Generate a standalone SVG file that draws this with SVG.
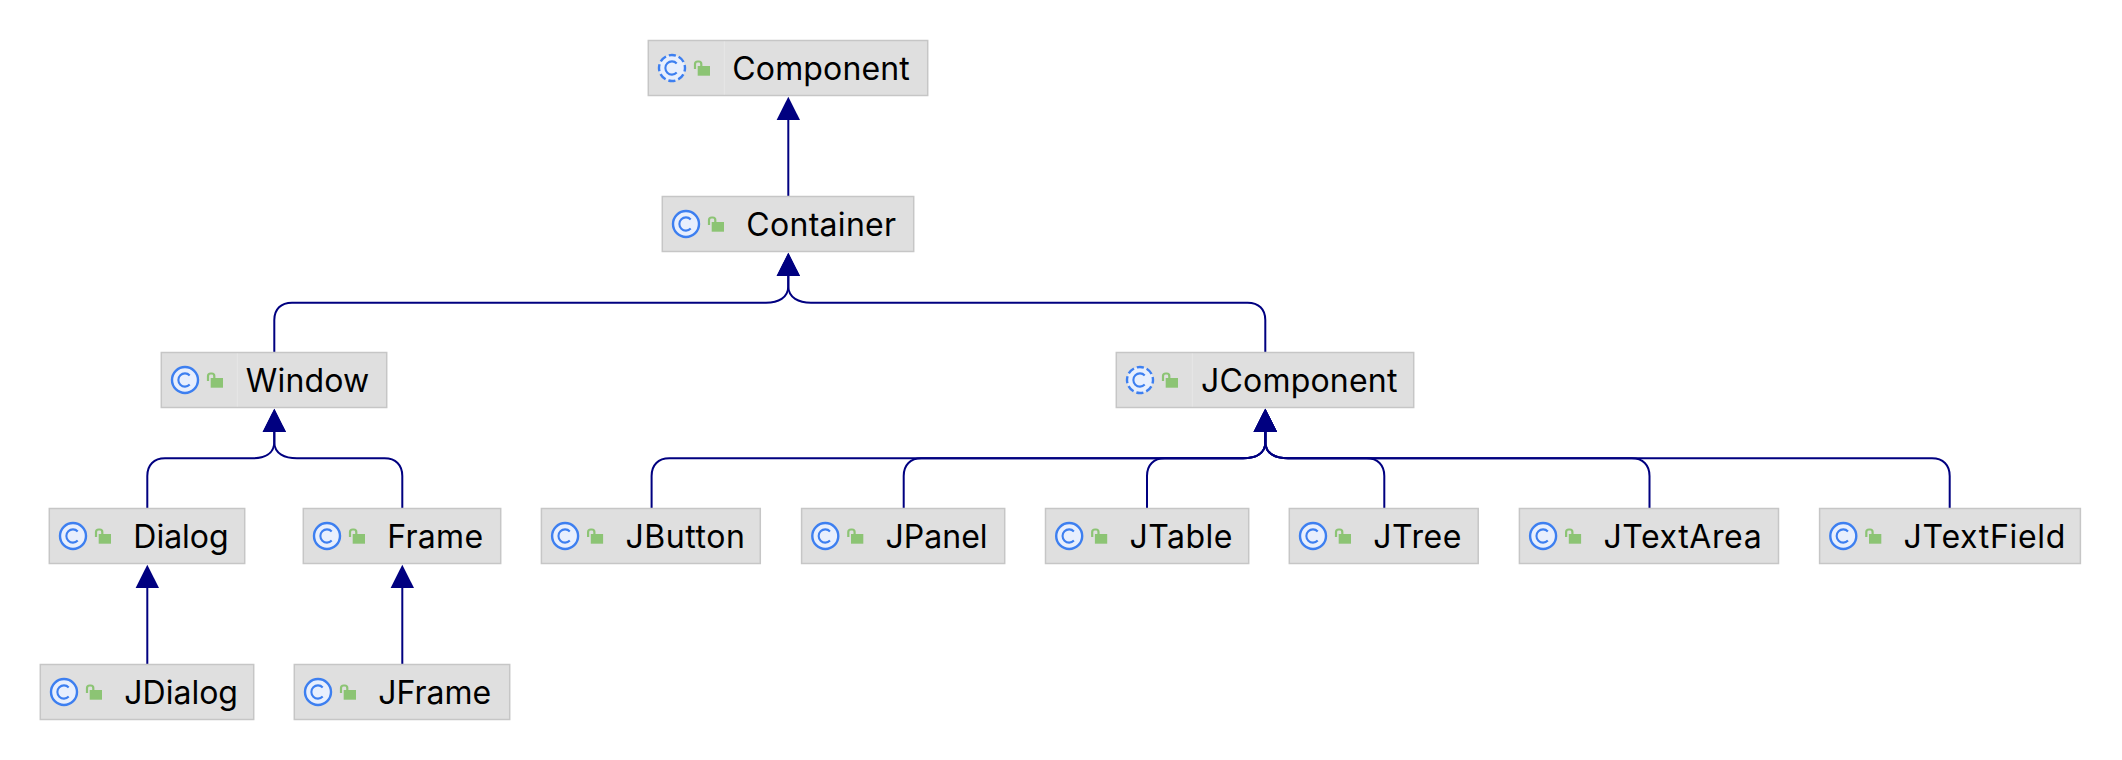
<svg xmlns="http://www.w3.org/2000/svg" width="2122" height="760" viewBox="0 0 2122 760">
<style>
.box{fill:#dfdfdf;stroke:#c6c6c6;stroke-width:1.5}
.div{stroke:#e6e6e6;stroke-width:1}
.lbl{font-family:"Inter","Liberation Sans",sans-serif;font-size:32px;fill:#000}
.conn{fill:none;stroke:#000080;stroke-width:2;marker-end:url(#tri)}
.ic{fill:none;stroke:#3d7ff0;stroke-width:2.1}
</style>
<defs>
<marker id="tri" markerUnits="userSpaceOnUse" markerWidth="24" markerHeight="24" viewBox="0 0 24 24" refX="0" refY="12" orient="auto"><path d="M0 0.3L23.2 12L0 23.7z" fill="#000080"/></marker>
<g id="lock"><rect x="49.400" y="25.500" width="12.300" height="9.700" fill="#8cc474"/><path d="M46.700 28.500V23.500Q46.700 21 49.500 21H50.500Q53 21 53 23.500V26" fill="none" stroke="#8cc474" stroke-width="2.200"/></g>
<g id="cc"><circle cx="23.700" cy="27.500" r="13" fill="#e8effd" stroke="#3d7ff0" stroke-width="2.400"/><path class="ic" d="M28.400 22.900A6.600 6.600 0 1 0 28.400 32.100"/><use href="#lock"/></g>
<g id="ca"><circle cx="23.700" cy="27.500" r="13" fill="#e8effd" stroke="#3d7ff0" stroke-width="2.400" stroke-dasharray="7.200 3" stroke-dashoffset="3.600"/><path class="ic" d="M28.400 22.900A6.600 6.600 0 1 0 28.400 32.100"/><use href="#lock"/></g>
</defs>
<g id="connectors">
<path class="conn" d="M788.300 196V120"/>
<path class="conn" d="M274.300 352V320C274.300 309 281 302.700 292 302.700H766C778 302.700 788.300 298 788.300 286V276"/>
<path class="conn" d="M1265.300 352V320C1265.300 309 1258.600 302.700 1247.600 302.700H811C799 302.700 788.300 298 788.300 286V276"/>
<path class="conn" d="M147.300 508V476C147.300 465 154 458.300 165 458.300H252C264 458.300 274.300 454 274.300 442V432"/>
<path class="conn" d="M402.300 508V476C402.300 465 395.600 458.300 384.600 458.300H297C285 458.300 274.300 454 274.300 442V432"/>
<path class="conn" d="M147.300 664V588"/>
<path class="conn" d="M402.300 664V588"/>
<path class="conn" d="M651.600 508V476C651.600 465 658.300 458.300 669.300 458.300H1243C1255 458.300 1265.300 454 1265.300 442V432"/>
<path class="conn" d="M903.700 508V476C903.700 465 910.400 458.300 921.400 458.300H1243C1255 458.300 1265.300 454 1265.300 442V432"/>
<path class="conn" d="M1147 508V476C1147 465 1153.700 458.300 1164.700 458.300H1243C1255 458.300 1265.300 454 1265.300 442V432"/>
<path class="conn" d="M1384.300 508V476C1384.300 465 1377.600 458.300 1366.600 458.300H1288C1276 458.300 1265.300 454 1265.300 442V432"/>
<path class="conn" d="M1649.500 508V476C1649.500 465 1642.800 458.300 1631.800 458.300H1288C1276 458.300 1265.300 454 1265.300 442V432"/>
<path class="conn" d="M1949.700 508V476C1949.700 465 1943 458.300 1932 458.300H1288C1276 458.300 1265.300 454 1265.300 442V432"/>
</g>
<g id="Component" transform="translate(648.300 40.500)"><rect class="box" width="279.400" height="55"/><path class="div" d="M76 1V54"/><use href="#ca"/><text class="lbl" x="84" y="39.500" letter-spacing="0.150">Component</text></g>
<g id="Container" transform="translate(662.300 196.500)"><rect class="box" width="251.400" height="55"/><use href="#cc"/><text class="lbl" x="84" y="39.500" letter-spacing="0.300">Container</text></g>
<g id="Window" transform="translate(161.300 352.500)"><rect class="box" width="225.400" height="55"/><path class="div" d="M76 1V54"/><use href="#cc"/><text class="lbl" x="84.500" y="39.500" letter-spacing="0.150">Window</text></g>
<g id="JComponent" transform="translate(1116.300 352.500)"><rect class="box" width="297.400" height="55"/><path class="div" d="M76 1V54"/><use href="#ca"/><text class="lbl" x="84.700" y="39.500" letter-spacing="0.200">JComponent</text></g>
<g id="Dialog" transform="translate(49.300 508.500)"><rect class="box" width="195.400" height="55"/><use href="#cc"/><text class="lbl" x="84" y="39.500">Dialog</text></g>
<g id="Frame" transform="translate(303.300 508.500)"><rect class="box" width="197.400" height="55"/><use href="#cc"/><text class="lbl" x="84" y="39.500" letter-spacing="0.270">Frame</text></g>
<g id="JButton" transform="translate(541.400 508.500)"><rect class="box" width="218.900" height="55"/><use href="#cc"/><text class="lbl" x="84" y="39.500" letter-spacing="0.580">JButton</text></g>
<g id="JPanel" transform="translate(801.600 508.500)"><rect class="box" width="203.100" height="55"/><use href="#cc"/><text class="lbl" x="84" y="39.500">JPanel</text></g>
<g id="JTable" transform="translate(1045.500 508.500)"><rect class="box" width="203.200" height="55"/><use href="#cc"/><text class="lbl" x="84" y="39.500" letter-spacing="0.450">JTable</text></g>
<g id="JTree" transform="translate(1289.300 508.500)"><rect class="box" width="188.900" height="55"/><use href="#cc"/><text class="lbl" x="84" y="39.500" letter-spacing="0.540">JTree</text></g>
<g id="JTextArea" transform="translate(1519.400 508.500)"><rect class="box" width="259.100" height="55"/><use href="#cc"/><text class="lbl" x="84" y="39.500" letter-spacing="0.600">JTextArea</text></g>
<g id="JTextField" transform="translate(1819.600 508.500)"><rect class="box" width="260.800" height="55"/><use href="#cc"/><text class="lbl" x="84" y="39.500" letter-spacing="0.680">JTextField</text></g>
<g id="JDialog" transform="translate(40.300 664.500)"><rect class="box" width="213.400" height="55"/><use href="#cc"/><text class="lbl" x="84" y="39.500">JDialog</text></g>
<g id="JFrame" transform="translate(294.300 664.500)"><rect class="box" width="215.400" height="55"/><use href="#cc"/><text class="lbl" x="84" y="39.500">JFrame</text></g>
</svg>
